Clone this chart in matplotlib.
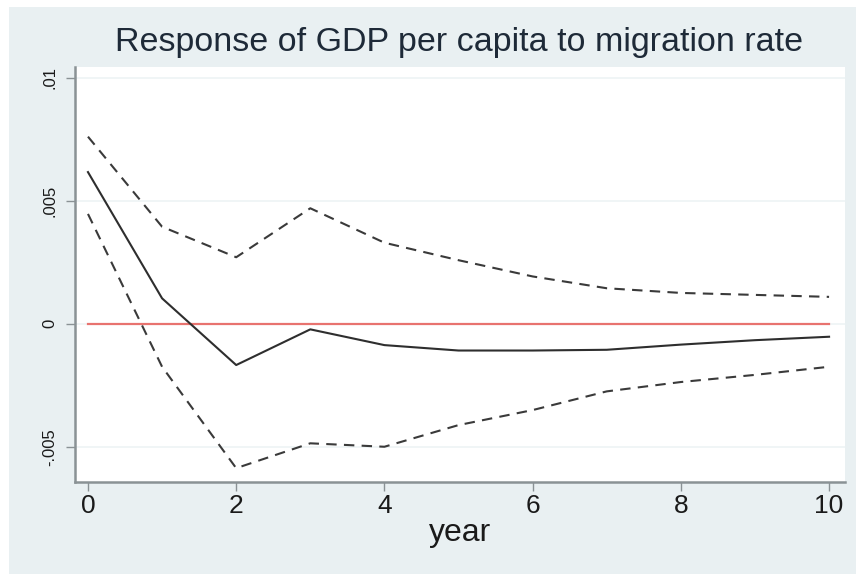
import matplotlib.pyplot as plt
from matplotlib.patches import Rectangle

# Impulse response of GDP per capita to a migration-rate shock, with bands
years = [0, 1, 2, 3, 4, 5, 6, 7, 8, 9, 10]
irf = [0.00616, 0.00103, -0.00168, -0.00023, -0.00087, -0.00109, -0.00109,
       -0.00106, -0.00085, -0.00067, -0.00053]
upper = [0.0076, 0.00394, 0.0027, 0.00469, 0.00329, 0.00258, 0.00192,
         0.00144, 0.00125, 0.00117, 0.00109]
lower = [0.00446, -0.00175, -0.00587, -0.00486, -0.00500, -0.00412, -0.00351,
         -0.00275, -0.00237, -0.00208, -0.00175]
yticks = [-0.005, 0, 0.005, 0.01]
ytick_labels = ["-.005", "0", ".005", ".01"]
xticks = [0, 2, 4, 6, 8, 10]

plt.rcParams['font.family'] = ['Liberation Sans', 'DejaVu Sans']

bg = "#e9f0f2"
fig = plt.figure(figsize=(8.56, 5.74), dpi=100, facecolor="white")
fig.add_artist(Rectangle((9 / 856, 0), 1, 1 - 7 / 574, transform=fig.transFigure,
                         facecolor=bg, edgecolor="none", zorder=-10))

ax = fig.add_axes([75 / 856, 1 - 481.7 / 574, 770 / 856, (481.7 - 67) / 574])
ax.set_zorder(1)
ax.set_facecolor("white")

for y in yticks:
    ax.axhline(y, color="#eef3f5", lw=1.2, zorder=1)

ax.plot(years, [0] * len(years), color="#e8736f", lw=1.6, zorder=2)
ax.plot(years, upper, color="#3a3a3a", lw=1.5, ls=(0, (5, 3.5)), zorder=3)
ax.plot(years, lower, color="#3a3a3a", lw=1.5, ls=(0, (5, 3.5)), zorder=3)
ax.plot(years, irf, color="#2e2e2e", lw=1.5, zorder=4)

ax.set_xlim(-0.175, 10.215)
ax.set_ylim(-0.00642, 0.01043)

ax.set_xticks(xticks)
ax.set_xticklabels([str(x) for x in xticks], fontsize=19)
ax.set_yticks(yticks)
ax.set_yticklabels(ytick_labels, fontsize=12, rotation=90, va="center")

for side in ("top", "right"):
    ax.spines[side].set_visible(False)
for side in ("left", "bottom"):
    ax.spines[side].set_color("#8a9295")
    ax.spines[side].set_linewidth(1.8)
ax.tick_params(axis="both", direction="out", length=6.5, width=1, color="#8a9295",
               labelcolor="#1a1a1a")
ax.tick_params(axis="x", pad=2)
ax.tick_params(axis="y", pad=6)

ax.set_xlabel("year", fontsize=23, color="#1a1a1a", labelpad=0)
fig.text(459 / 856, 1 - 42 / 574, "Response of GDP per capita to migration rate",
         ha="center", va="center", fontsize=24.5, color="#1e2a38")

fig.savefig("out.png", dpi=100, facecolor=fig.get_facecolor())
